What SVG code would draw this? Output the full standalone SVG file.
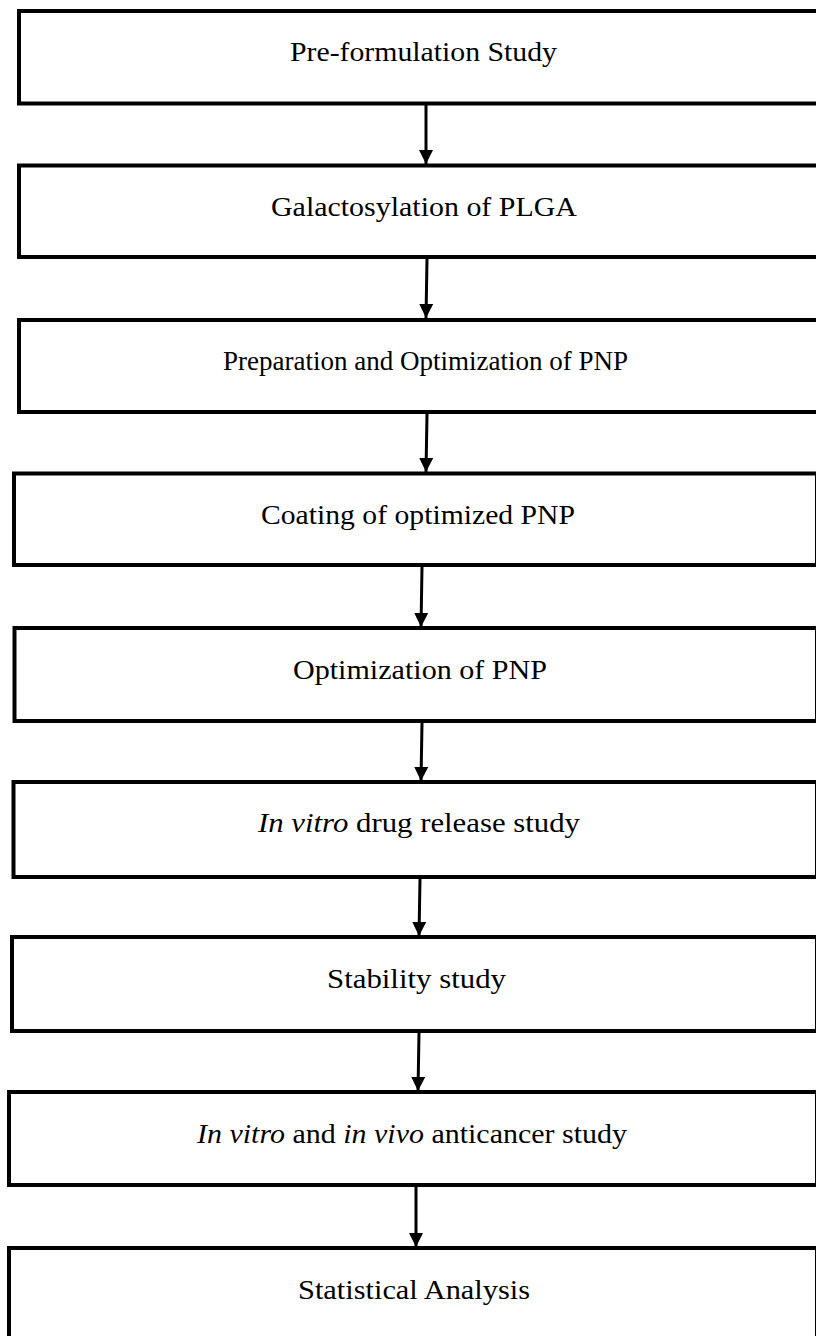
<svg xmlns="http://www.w3.org/2000/svg" width="816" height="1336" viewBox="0 0 816 1336">
<style>
.box{fill:#fff;stroke:#000;stroke-width:4}
.lbl{font-family:"Liberation Serif","Times New Roman",serif;font-size:27px;fill:#000}
.it{font-style:italic}
.conn{stroke:#000;stroke-width:3;fill:none}
</style>
<defs>
<marker id="ah" markerUnits="userSpaceOnUse" markerWidth="16" markerHeight="16" viewBox="0 0 16 16" refX="14" refY="8" orient="auto">
<path d="M0,1 L14,8 L0,15 Z" fill="#000"/>
</marker>
</defs>
<rect width="816" height="1336" fill="#fff"/>
<g id="connectors">
<line class="conn" x1="426" y1="105" x2="426" y2="164" marker-end="url(#ah)"/>
<line class="conn" x1="427" y1="259" x2="426" y2="318" marker-end="url(#ah)"/>
<line class="conn" x1="427" y1="414" x2="426" y2="472" marker-end="url(#ah)"/>
<line class="conn" x1="422" y1="567" x2="421" y2="627" marker-end="url(#ah)"/>
<line class="conn" x1="422" y1="723" x2="421" y2="781" marker-end="url(#ah)"/>
<line class="conn" x1="420" y1="879" x2="419" y2="936" marker-end="url(#ah)"/>
<line class="conn" x1="419" y1="1033" x2="418" y2="1091" marker-end="url(#ah)"/>
<line class="conn" x1="416" y1="1187" x2="416" y2="1247" marker-end="url(#ah)"/>
</g>
<g id="n1"><rect class="box" x="19" y="11" width="801" height="92.5"/><text class="lbl" x="290" y="61" textLength="267" lengthAdjust="spacingAndGlyphs">Pre-formulation Study</text></g>
<g id="n2"><rect class="box" x="19" y="165.5" width="801" height="91.5"/><text class="lbl" x="271" y="216" textLength="306" lengthAdjust="spacingAndGlyphs">Galactosylation of PLGA</text></g>
<g id="n3"><rect class="box" x="19" y="320" width="800" height="92"/><text class="lbl" x="223" y="370" textLength="405" lengthAdjust="spacingAndGlyphs">Preparation and Optimization of PNP</text></g>
<g id="n4"><rect class="box" x="14" y="473.5" width="803" height="91.5"/><text class="lbl" x="261" y="524" textLength="314" lengthAdjust="spacingAndGlyphs">Coating of optimized PNP</text></g>
<g id="n5"><rect class="box" x="14.5" y="628" width="802.5" height="93"/><text class="lbl" x="293" y="679" textLength="254" lengthAdjust="spacingAndGlyphs">Optimization of PNP</text></g>
<g id="n6"><rect class="box" x="13.5" y="782" width="803.5" height="95"/><text class="lbl" x="258" y="832" textLength="322" lengthAdjust="spacingAndGlyphs"><tspan class="it">In vitro</tspan> drug release study</text></g>
<g id="n7"><rect class="box" x="12" y="937" width="805" height="94"/><text class="lbl" x="327" y="988" textLength="179" lengthAdjust="spacingAndGlyphs">Stability study</text></g>
<g id="n8"><rect class="box" x="9" y="1092" width="808" height="93"/><text class="lbl" x="197" y="1143" textLength="430" lengthAdjust="spacingAndGlyphs"><tspan class="it">In vitro</tspan> and <tspan class="it">in vivo</tspan> anticancer study</text></g>
<g id="n9"><rect class="box" x="9" y="1248" width="808" height="100"/><text class="lbl" x="298" y="1299" textLength="232" lengthAdjust="spacingAndGlyphs">Statistical Analysis</text></g>
</svg>
